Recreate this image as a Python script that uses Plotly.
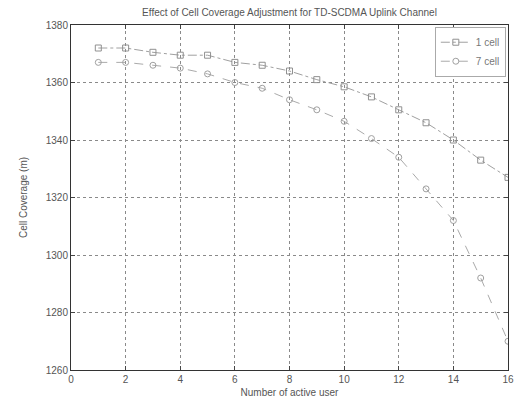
import plotly.graph_objects as go

# Number of active users on the uplink
users = list(range(1, 17))

# Cell coverage radius (m) for an isolated cell and for a 7-cell cluster
coverage_1cell = [1372, 1372, 1370.5, 1369.5, 1369.5, 1367, 1366, 1364,
                  1361, 1358.5, 1355, 1350.5, 1346, 1340, 1333, 1327]
coverage_7cell = [1367, 1367, 1366, 1365, 1363, 1360, 1358, 1354,
                  1350.5, 1346.5, 1340.5, 1334, 1323, 1312, 1292, 1270]

series_names = ["1 cell", "7 cell"]

x_ticks = list(range(0, 17, 2))
y_ticks = list(range(1260, 1381, 20))

font_family = "Liberation Sans, Arial, sans-serif"
ink = "#555555"

fig = go.Figure()
fig.add_trace(go.Scatter(
    x=users, y=coverage_1cell, name=series_names[0],
    mode="lines+markers",
    line=dict(color="#a0a0a0", width=1, dash="dashdot"),
    marker=dict(symbol="square-open", size=6, color="#909090", line=dict(width=1)),
))
fig.add_trace(go.Scatter(
    x=users, y=coverage_7cell, name=series_names[1],
    mode="lines+markers",
    line=dict(color="#aaaaaa", width=1, dash="dash"),
    marker=dict(symbol="circle-open", size=6, color="#a0a0a0", line=dict(width=1)),
))

axis_common = dict(
    showline=True, linecolor="#333333", linewidth=1, mirror="ticks",
    ticks="inside", ticklen=4, tickcolor="#444444",
    showgrid=True, gridcolor="#8a8a8a", griddash="dot", gridwidth=1,
    zeroline=False,
    tickfont=dict(family=font_family, size=10, color=ink),
)

fig.update_xaxes(
    range=[0, 16], tickvals=x_ticks,
    title=dict(text="Number of active user", font=dict(family=font_family, size=10, color=ink), standoff=4),
    **axis_common,
)
fig.update_yaxes(
    range=[1260, 1380], tickvals=y_ticks,
    title=dict(text="Cell Coverage (m)", font=dict(family=font_family, size=10, color=ink), standoff=16),
    **axis_common,
)

fig.update_layout(
    width=515, height=411,
    margin=dict(l=71, r=7, t=25, b=41, autoexpand=False),
    paper_bgcolor="white", plot_bgcolor="white",
    title=dict(
        text="Effect of Cell Coverage Adjustment for TD-SCDMA Uplink Channel",
        x=0.5, xref="paper", y=0.978, yanchor="top",
        font=dict(family=font_family, size=10, color="#555555"),
    ),
    legend=dict(
        x=0.995, y=0.995, xanchor="right", yanchor="top",
        bgcolor="white", bordercolor="#aaaaaa", borderwidth=1,
        font=dict(family=font_family, size=10, color="#777777"),
        itemwidth=30, tracegroupgap=0,
    ),
    showlegend=True,
)

fig.write_html("out.html")
